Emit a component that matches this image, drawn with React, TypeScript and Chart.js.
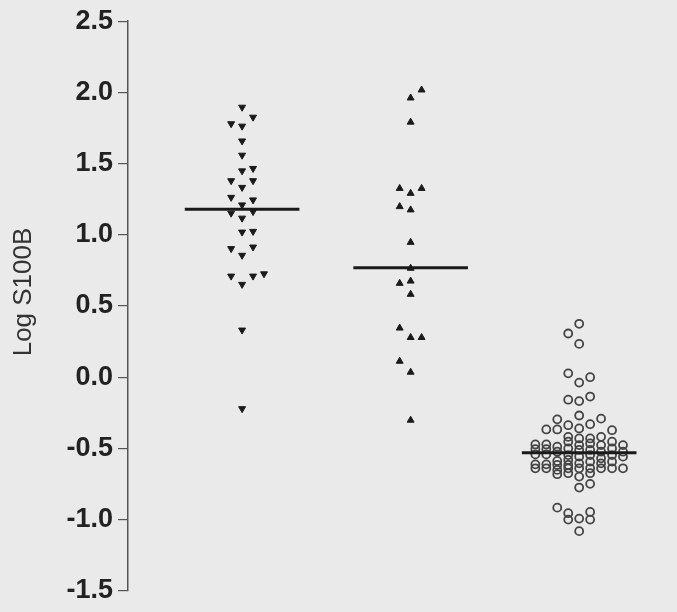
import React, { useEffect, useRef } from "react";
import { Chart, registerables } from "chart.js";

Chart.register(...registerables);

// Group positions on the (hidden) x axis
const groupPos = [1, 2, 3];
const medians = [1.18, 0.768, -0.53];

// Group 1: downward triangles (value, column offset in the swarm)
const g1Values = [1.896, 1.826, 1.78, 1.763, 1.659, 1.559, 1.466, 1.449, 1.38, 1.38, 1.333, 1.263, 1.245, 1.21, 1.163, 1.152, 1.117, 1.024, 1.019, 0.914, 0.903, 0.856, 0.726, 0.71, 0.71, 0.652, 0.331, -0.221];
const g1Cols = [0, 1, -1, 0, 0, 0, 1, 0, -1, 1, 0, -1, 1, 0, 1, -1, 0, 1, 0, 1, -1, 0, 2, -1, 1, 0, 0, 0];

// Group 2: upward triangles
const g2Values = [2.017, 1.961, 1.791, 1.326, 1.291, 1.326, 1.198, 1.175, 0.947, 0.765, 0.675, 0.659, 0.582, 0.345, 0.279, 0.279, 0.112, 0.035, -0.302];
const g2Cols = [1, 0, 0, -1, 0, 1, -1, 0, 0, 0, 0, -1, 0, -1, 0, 1, -1, 0, 0];

// Group 3: open circles
const g3Values = [
  0.375, 0.307, 0.234,
  0.027, 0.0, -0.038,
  -0.158, -0.168, -0.136,
  -0.269, -0.296, -0.291,
  -0.367, -0.367, -0.337, -0.36, -0.33, -0.372,
  -0.472, -0.505, -0.542, -0.612, -0.64,
  -0.472, -0.505, -0.542, -0.612, -0.64,
  -0.488, -0.523, -0.588, -0.616, -0.651, -0.681,
  -0.419, -0.453, -0.5, -0.547, -0.581, -0.616, -0.64, -0.674,
  -0.43, -0.477, -0.511, -0.558, -0.605, -0.64, -0.698,
  -0.43, -0.465, -0.511, -0.547, -0.593, -0.64, -0.674,
  -0.419, -0.477, -0.523, -0.57, -0.605, -0.64,
  -0.453, -0.5, -0.547, -0.593, -0.64,
  -0.477, -0.523, -0.558, -0.64,
  -0.749, -0.775, -0.916, -0.955, -1.0, -0.993, -0.946, -1.0, -1.081,
];
const g3Cols = [
  0, -1, 0,
  -1, 1, 0,
  -1, 0, 1,
  0, -2, 2,
  -3, -2, -1, 0, 1, 3,
  -4, -4, -4, -4, -4,
  -3, -3, -3, -3, -3,
  -2, -2, -2, -2, -2, -2,
  -1, -1, -1, -1, -1, -1, -1, -1,
  0, 0, 0, 0, 0, 0, 0,
  1, 1, 1, 1, 1, 1, 1,
  2, 2, 2, 2, 2, 2,
  3, 3, 3, 3, 3,
  4, 4, 4, 4,
  1, 0, -2, -1, -1, 0, 1, 1, 0,
];

const yMin = -1.5;
const yMax = 2.5;
const yStep = 0.5;
const yTitle = "Log S100B";

const COL_STEP = 0.065;
const HALF_WIDTH = 0.34;

const toPoints = (g: number, vals: number[], cols: number[]) =>
  vals.map((v, i) => ({ x: g + cols[i] * COL_STEP, y: v }));

const medianLine = (i: number) => [
  { x: groupPos[i] - HALF_WIDTH, y: medians[i] },
  { x: groupPos[i] + HALF_WIDTH, y: medians[i] },
];

const titlePlugin = {
  id: "yTitleText",
  afterDraw(chart: any) {
    const ctx = chart.ctx;
    ctx.save();
    ctx.translate(24, 292);
    ctx.rotate(-Math.PI / 2);
    ctx.fillStyle = "#333";
    ctx.font = "normal 26px 'Liberation Sans', Arial, sans-serif";
    ctx.textAlign = "center";
    ctx.textBaseline = "middle";
    ctx.fillText(yTitle, 0, 0);
    ctx.restore();
  },
};

export default function App() {
  const ref = useRef<HTMLCanvasElement | null>(null);

  useEffect(() => {
    if (!ref.current) return;
    const lineDs = (i: number) => ({
      data: medianLine(i),
      showLine: true,
      borderColor: "#1a1a1a",
      borderWidth: 3,
      pointRadius: 0,
      order: 0,
    });
    const chart = new Chart(ref.current, {
      type: "scatter",
      data: {
        datasets: [
          lineDs(0),
          lineDs(1),
          lineDs(2),
          {
            data: toPoints(groupPos[0], g1Values, g1Cols),
            pointStyle: "triangle",
            rotation: 180,
            pointRadius: 4,
            backgroundColor: "#1a1a1a",
            borderColor: "#1a1a1a",
            borderWidth: 1,
            order: 1,
          },
          {
            data: toPoints(groupPos[1], g2Values, g2Cols),
            pointStyle: "triangle",
            pointRadius: 4,
            backgroundColor: "#1a1a1a",
            borderColor: "#1a1a1a",
            borderWidth: 1,
            order: 1,
          },
          {
            data: toPoints(groupPos[2], g3Values, g3Cols),
            pointStyle: "circle",
            pointRadius: 4,
            backgroundColor: "rgba(0,0,0,0)",
            borderColor: "#444",
            borderWidth: 1.8,
            order: 1,
          },
        ],
      },
      options: {
        responsive: false,
        animation: false,
        layout: { padding: { top: 21, bottom: 16, left: 0, right: 0 } },
        plugins: { legend: { display: false }, tooltip: { enabled: false } },
        scales: {
          x: { type: "linear", display: false, min: 0.323, max: 3.546 },
          y: {
            type: "linear",
            min: yMin,
            max: yMax,
            afterFit: (s: any) => {
              s.width = 128;
            },
            ticks: {
              stepSize: yStep,
              padding: 5,
              color: "#222",
              font: { family: "'Liberation Sans', Arial, sans-serif", size: 27, weight: "bold" },
              callback: (v: any) => Number(v).toFixed(1),
            },
            grid: {
              display: true,
              drawOnChartArea: false,
              drawTicks: true,
              tickLength: 10,
              color: "#555",
              lineWidth: 1.2,
            },
            border: { display: true, color: "#555", width: 1.5 },
            title: { display: false },
          },
        },
      },
      plugins: [titlePlugin],
    });
    return () => chart.destroy();
  }, []);

  return (
    <div style={{ position: "fixed", left: 0, top: 0, width: 677, height: 612, background: "#eaeaea" }}>
      <canvas ref={ref} width={677} height={612} style={{ display: "block" }} />
    </div>
  );
}
